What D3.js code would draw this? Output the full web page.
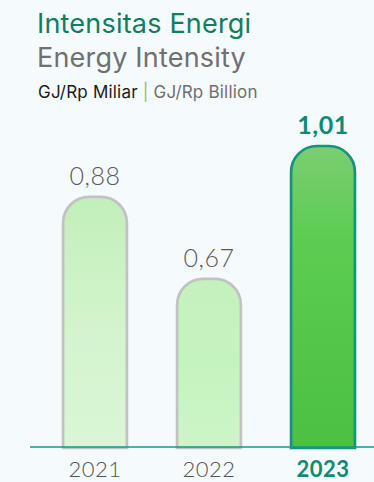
<!DOCTYPE html>
<html>
<head>
<meta charset="utf-8">
<script src="https://cdn.jsdelivr.net/npm/d3@7"></script>
<style>
  html, body { margin: 0; padding: 0; background: #f5fafd; }
  svg { display: block; }
</style>
</head>
<body>
<div id="chart"></div>
<script>
// Energy intensity per year (GJ per Rp billion)
const years = ["2021", "2022", "2023"];
const values = [0.88, 0.67, 1.01];
const valueLabels = ["0,88", "0,67", "1,01"];
const highlightYear = "2023";

const W = 374, H = 482;
const baseY = 447;

const svg = d3.select("#chart").append("svg")
  .attr("width", W).attr("height", H);

svg.append("rect").attr("width", W).attr("height", H).attr("fill", "#f5fafd");

const defs = svg.append("defs");
function grad(id, stops) {
  const g = defs.append("linearGradient").attr("id", id)
    .attr("x1", 0).attr("y1", 0).attr("x2", 0).attr("y2", 1);
  stops.forEach(s => g.append("stop").attr("offset", s[0]).attr("stop-color", s[1]));
}
grad("g-light", [[0, "#c2efba"], [0.5, "#d2f4cc"], [1, "#daf6d6"]]);
grad("g-mid", [[0, "#c6f1bf"], [0.5, "#c5f3bf"], [1, "#cdf5c8"]]);
grad("g-strong", [[0, "#7ccd72"], [0.3, "#5ccd52"], [1, "#4bc043"]]);

// Titles
const titleFont = "Inter, 'Noto Sans', sans-serif";
svg.append("text").attr("x", 37).attr("y", 33)
  .attr("font-family", titleFont).attr("font-size", 27)
  .attr("letter-spacing", 0.2)
  .attr("fill", "#0f7d60").text("Intensitas Energi");
svg.append("text").attr("x", 37).attr("y", 67)
  .attr("font-family", titleFont).attr("font-size", 27)
  .attr("letter-spacing", 0.2)
  .attr("fill", "#707070").text("Energy Intensity");
const unit = svg.append("text").attr("x", 38).attr("y", 98)
  .attr("font-family", titleFont).attr("font-size", 17)
  .attr("letter-spacing", 0.2);
unit.append("tspan").attr("fill", "#1a1a1a").text("GJ/Rp Miliar ");
unit.append("tspan").attr("fill", "#8dc63f").text("|");
unit.append("tspan").attr("fill", "#6f6f6f").text(" GJ/Rp Billion");

// Scales
const x = d3.scaleBand().domain(years).range([38, 380])
  .paddingInner(0.44).paddingOuter(0.22);
const y = d3.scaleLinear().domain([0.24, 1.01]).range([baseY, 146]);

const data = years.map((yr, i) => ({ year: yr, value: values[i], label: valueLabels[i] }));

function barPath(d) {
  const x0 = x(d.year), w = x.bandwidth(), x1 = x0 + w;
  const top = y(d.value), bottom = baseY + 1;
  const r = Math.min(26, w / 2);
  return `M${x0},${bottom}V${top + r}A${r},${r} 0 0 1 ${x0 + r},${top}H${x1 - r}` +
         `A${r},${r} 0 0 1 ${x1},${top + r}V${bottom}Z`;
}

const fills = { "2021": "url(#g-light)", "2022": "url(#g-mid)", "2023": "url(#g-strong)" };

svg.selectAll("path.bar").data(data).join("path")
  .attr("class", "bar")
  .attr("d", barPath)
  .attr("fill", d => fills[d.year])
  .attr("stroke", d => d.year === highlightYear ? "#14937f" : "#c2c2c2")
  .attr("stroke-width", 2.7);

// Baseline
svg.append("line").attr("x1", 30).attr("x2", W).attr("y1", baseY).attr("y2", baseY)
  .attr("stroke", "#16998a").attr("stroke-width", 1.5);

// Value labels
svg.selectAll("text.val").data(data).join("text")
  .attr("class", "val")
  .attr("x", d => x(d.year) + x.bandwidth() / 2)
  .attr("y", d => y(d.value) - 12)
  .attr("text-anchor", "middle")
  .attr("font-family", "Lato, 'Noto Sans', sans-serif")
  .attr("font-size", 25)
  .attr("letter-spacing", 0.5)
  .attr("font-weight", d => d.year === highlightYear ? 700 : 300)
  .attr("fill", d => d.year === highlightYear ? "#0e8a77" : "#5a5a5a")
  .text(d => d.label);

// Year labels
svg.selectAll("text.yr").data(data).join("text")
  .attr("class", "yr")
  .attr("x", d => x(d.year) + x.bandwidth() / 2)
  .attr("y", 477)
  .attr("text-anchor", "middle")
  .attr("font-family", "Lato, 'Noto Sans', sans-serif")
  .attr("font-size", 22)
  .attr("letter-spacing", 0.5)
  .attr("font-weight", d => d.year === highlightYear ? 700 : 300)
  .attr("fill", d => d.year === highlightYear ? "#0e8a77" : "#555555")
  .text(d => d.year);
</script>
</body>
</html>
